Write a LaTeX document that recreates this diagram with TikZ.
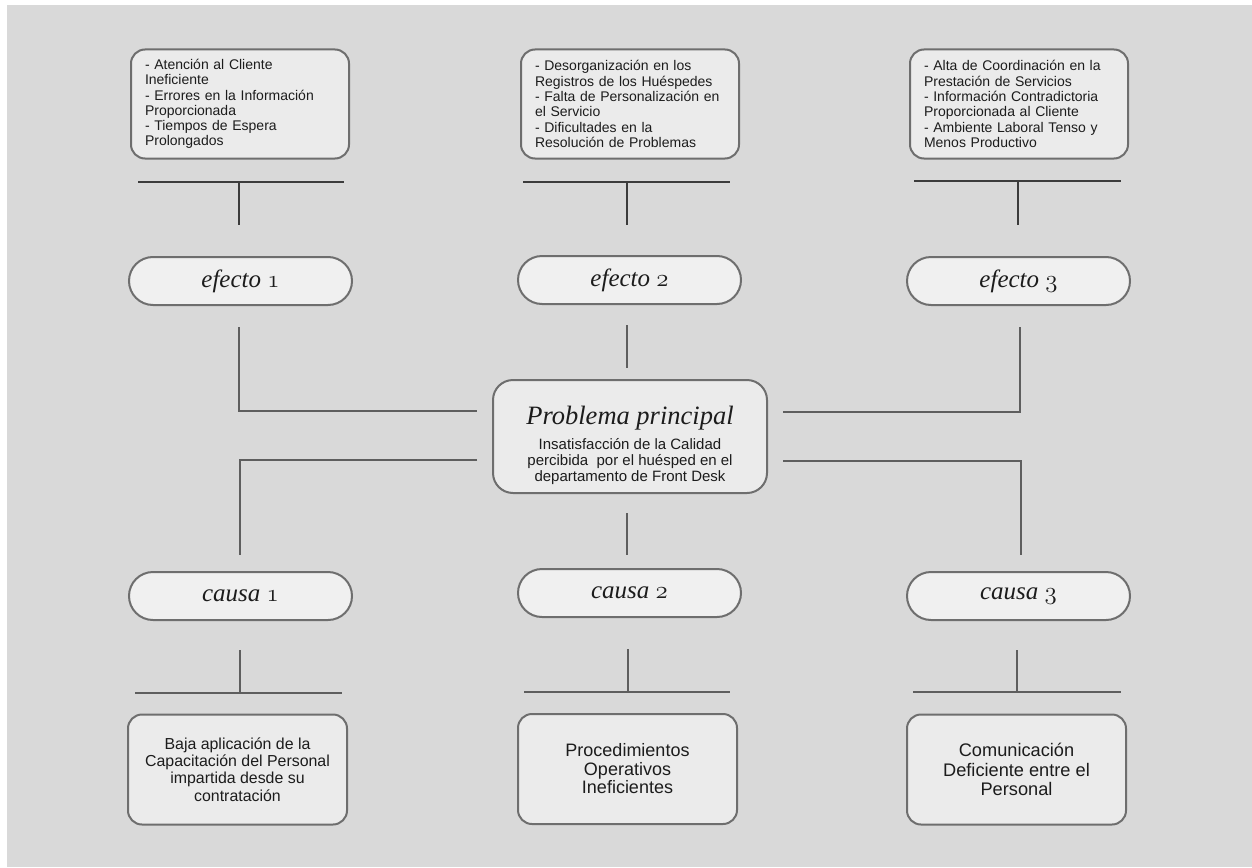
\documentclass[tikz,border=0pt]{standalone}
\usepackage{fontspec}
\newfontfamily\bodyfont{Liberation Sans}
\newfontfamily\labelfont{Liberation Serif}
\usetikzlibrary{calc}

\definecolor{bgc}{HTML}{D9D9D9}
\definecolor{boxfill}{HTML}{EBEBEB}
\definecolor{pillfill}{HTML}{F0F0F0}
\definecolor{bordercol}{HTML}{6E6E6E}
\definecolor{linecol}{HTML}{5E5E5E}
\definecolor{barcol}{HTML}{3C3C3C}
\definecolor{textcol}{HTML}{1C1C1C}

% old-style figures taken from the math italic font
\newcommand{\osnum}[1]{{\usefont{OML}{lmm}{b}{it}#1}}

\begin{document}
\begin{tikzpicture}[x=1pt,y=-1pt,
  pill/.style={draw=bordercol, fill=pillfill, line width=2pt,
    rounded corners=24pt, minimum width=223pt, minimum height=48pt,
    inner sep=0pt, text=textcol,
    font=\labelfont\itshape\fontsize{25}{28}\selectfont},
  tbox/.style={draw=bordercol, fill=boxfill, line width=2pt,
    rounded corners=14pt, minimum width=218pt, minimum height=109pt,
    text width=190pt, align=left, inner xsep=14pt, inner ysep=0pt,
    text=textcol, font=\bodyfont\fontsize{14}{15.3}\selectfont},
  bbox/.style={draw=bordercol, fill=boxfill, line width=2pt,
    rounded corners=14pt, minimum width=219pt, minimum height=110pt,
    align=center, inner sep=0pt, text=textcol},
  probbox/.style={draw=bordercol, fill=boxfill, line width=2pt,
    rounded corners=20pt, minimum width=274pt, minimum height=113pt},
  conn/.style={draw=linecol, line width=2pt},
  bar/.style={draw=barcol, line width=1.6pt},
  lowbar/.style={draw=linecol, line width=2pt}]

\useasboundingbox (0,0) rectangle (1252,867);
\fill[white] (0,0) rectangle (1252,867);
\fill[bgc] (7,5) rectangle (1252,867);

% effect descriptions
\node[tbox] (t1) at (240,104) {- Atención al Cliente\\Ineficiente\\- Errores en la Información\\Proporcionada\\- Tiempos de Espera\\Prolongados};
\node[tbox] (t2) at (630,104) {- Desorganización en los\\Registros de los Huéspedes\\- Falta de Personalización en\\el Servicio\\- Dificultades en la\\Resolución de Problemas};
\node[tbox] (t3) at (1019,104) {- Alta de Coordinación en la\\Prestación de Servicios\\- Información Contradictoria\\Proporcionada al Cliente\\\makebox[190pt][s]{- Ambiente Laboral Tenso y}\\Menos Productivo};

% T-bars under the descriptions
\coordinate (b1l) at (138,182); \coordinate (b1r) at (344,182);
\coordinate (s1t) at (239,182); \coordinate (s1b) at (239,225);
\coordinate (b2l) at (523,182); \coordinate (b2r) at (730,182);
\coordinate (s2t) at (627,182); \coordinate (s2b) at (627,225);
\coordinate (b3l) at (914,181); \coordinate (b3r) at (1121,181);
\coordinate (s3t) at (1018,181); \coordinate (s3b) at (1018,225);
\draw[bar] (b1l) -- (b1r); \draw[bar] (s1t) -- (s1b);
\draw[bar] (b2l) -- (b2r); \draw[bar] (s2t) -- (s2b);
\draw[bar] (b3l) -- (b3r); \draw[bar] (s3t) -- (s3b);

% effects
\node[pill] (e1) at (240.5,281) {efecto \osnum{1}};
\node[pill] (e2) at (629.5,280) {efecto \osnum{2}};
\node[pill] (e3) at (1018.5,281) {efecto \osnum{3}};

% main problem
\node[probbox] (P) at (630,436.5) {};
\node[anchor=base, text=textcol, font=\labelfont\itshape\fontsize{26.5}{30}\selectfont] (Pt) at (630,424) {Problema principal};
\node[align=center, text=textcol, inner sep=0pt, font=\bodyfont\fontsize{15}{16}\selectfont] (Ps) at (630,462) {Insatisfacción de la Calidad\\percibida~ por el huésped en el\\departamento de Front Desk};

% links from effects and causes to the main problem
\coordinate (u1a) at (239,327);  \coordinate (u1b) at (477,411);
\coordinate (u3a) at (1020,327); \coordinate (u3b) at (783,412);
\coordinate (l1a) at (477,460);  \coordinate (l1b) at (240,555);
\coordinate (l3a) at (783,461);  \coordinate (l3b) at (1021,555);
\coordinate (m1a) at (627,325);  \coordinate (m1b) at (627,368);
\coordinate (m2a) at (627,513);  \coordinate (m2b) at (627,555);
\draw[conn] (u1a) |- (u1b);
\draw[conn] (u3a) |- (u3b);
\draw[conn] (l1a) -| (l1b);
\draw[conn] (l3a) -| (l3b);
\draw[conn] (m1a) -- (m1b);
\draw[conn] (m2a) -- (m2b);

% causes
\node[pill] (c1) at (240.5,596) {causa \osnum{1}};
\node[pill] (c2) at (629.5,593) {causa \osnum{2}};
\node[pill] (c3) at (1018.5,596) {causa \osnum{3}};

% T-bars under the causes
\coordinate (d1t) at (240,650);  \coordinate (d1b) at (240,693);
\coordinate (h1l) at (135,693);  \coordinate (h1r) at (342,693);
\coordinate (d2t) at (628,649);  \coordinate (d2b) at (628,692);
\coordinate (h2l) at (524,692);  \coordinate (h2r) at (730,692);
\coordinate (d3t) at (1017,650); \coordinate (d3b) at (1017,692);
\coordinate (h3l) at (913,692);  \coordinate (h3r) at (1121,692);
\draw[lowbar] (d1t) -- (d1b); \draw[lowbar] (h1l) -- (h1r);
\draw[lowbar] (d2t) -- (d2b); \draw[lowbar] (h2l) -- (h2r);
\draw[lowbar] (d3t) -- (d3b); \draw[lowbar] (h3l) -- (h3r);

% cause descriptions
\node[bbox, font=\bodyfont\fontsize{15.9}{17.4}\selectfont] (k1) at (237.5,769.5) {Baja aplicación de la\\Capacitación del Personal\\impartida desde su\\contratación};
\node[bbox, font=\bodyfont\fontsize{18}{18.5}\selectfont] (k2) at (627.5,769) {Procedimientos\\Operativos\\Ineficientes};
\node[bbox, font=\bodyfont\fontsize{18.2}{19.3}\selectfont] (k3) at (1016.5,769.5) {Comunicación\\Deficiente entre el\\Personal};
\end{tikzpicture}
\end{document}
